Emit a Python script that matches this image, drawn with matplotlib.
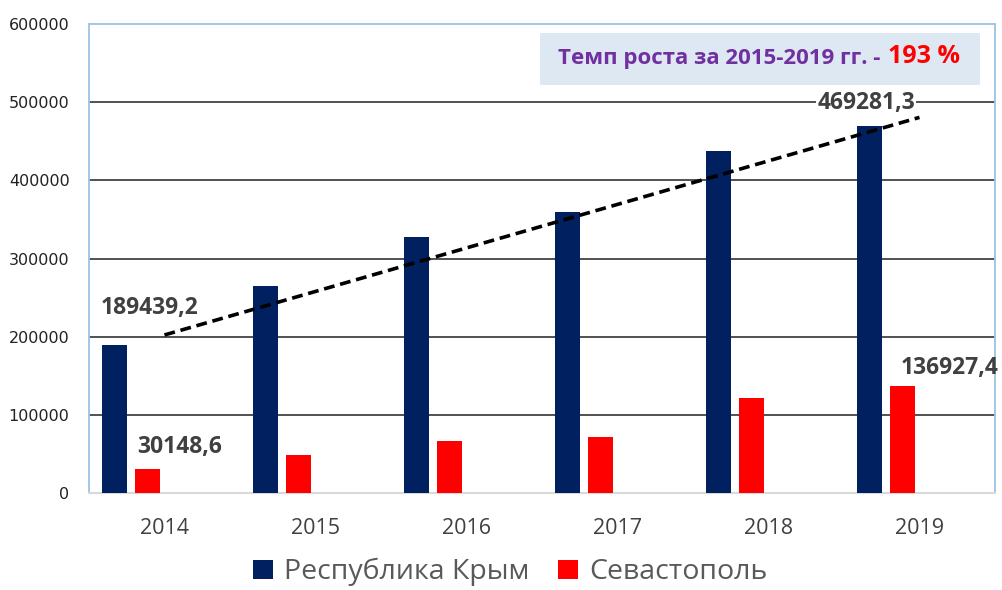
import numpy as np
import matplotlib.pyplot as plt
from matplotlib.patches import Rectangle

years = ['2014', '2015', '2016', '2017', '2018', '2019']
crimea = [189439.2, 265000, 327500, 359500, 437500, 469281.3]
sevastopol = [30148.6, 48600, 66500, 71600, 121500, 136927.4]
series_names = ['Республика Крым', 'Севастополь']
growth_text = 'Темп роста за 2015-2019 гг. - '
growth_value = '193 %'

navy = '#002060'
red = '#ff0000'
gray = '#404040'
border = '#9dc3e6'

fig = plt.figure(figsize=(10.02, 5.90), dpi=100)
ax = fig.add_axes([0.0888, 0.1644, 0.9042, 0.7949])

x = np.arange(len(years))
w = 0.165
ax.bar(x - 0.334, crimea, w, color=navy, label=series_names[0], zorder=3)
ax.bar(x - 0.113, sevastopol, w, color=red, label=series_names[1], zorder=3)

# linear trend of Crimea values
k, b = np.polyfit(x, crimea, 1)
ax.plot([x[0], x[-1]], [k * x[0] + b, k * x[-1] + b], ls=(0, (3, 1.6)),
        color='black', lw=2.6, zorder=4)

ax.set_xlim(-0.5, 5.5)
ax.set_ylim(0, 600000)
ax.set_yticks(range(0, 600001, 100000))
ax.set_yticklabels([str(v) for v in range(0, 600001, 100000)],
                   fontsize=11.5, color='#222222')
ax.set_xticks(x)
ax.set_xticklabels(years, fontsize=15.5, color=gray, family='Open Sans')
ax.tick_params(length=0)
ax.tick_params(axis='x', pad=18)
ax.tick_params(axis='y', pad=14)

for v in range(100000, 600000, 100000):
    ax.axhline(v, color='#333333', lw=1.2, zorder=1)

for s in ['left', 'right', 'top']:
    ax.spines[s].set_color(border)
    ax.spines[s].set_linewidth(1.3)
ax.spines['bottom'].set_color('#d9d9d9')
ax.spines['bottom'].set_linewidth(1.5)

lab = dict(fontsize=16.5, fontweight='bold', color=gray, family='Open Sans',
           ha='center', va='center', zorder=5)
ax.text(-0.096, 236700, '189439,2', **lab)
ax.text(0.103, 58850, '30148,6', **lab)
ax.text(4.646, 499000, '469281,3',
        bbox=dict(facecolor='white', edgecolor='none', pad=1), **lab)
ax.text(5.20, 159900, '136927,4', clip_on=False, **lab)

ax.add_patch(Rectangle((0.498, 0.870), 0.485, 0.111, transform=ax.transAxes,
                       facecolor='#dee8f3', edgecolor='none', zorder=2))
ax.text(0.880, 0.926, growth_text, transform=ax.transAxes, ha='right',
        va='center', fontsize=16, fontweight='bold', color='#7030a0',
        family='Open Sans', zorder=5)
ax.text(0.882, 0.930, growth_value, transform=ax.transAxes, ha='left',
        va='center', fontsize=18, fontweight='bold', color=red,
        family='Open Sans', zorder=5)

fig.legend(loc='center', bbox_to_anchor=(0.509, 0.03), ncol=2,
           frameon=False, prop={'family': 'Open Sans', 'size': 20.5},
           labelcolor='#595959', handlelength=0.7, handleheight=0.7,
           handletextpad=0.4, columnspacing=1.0)

fig.savefig('out.png', dpi=100)
